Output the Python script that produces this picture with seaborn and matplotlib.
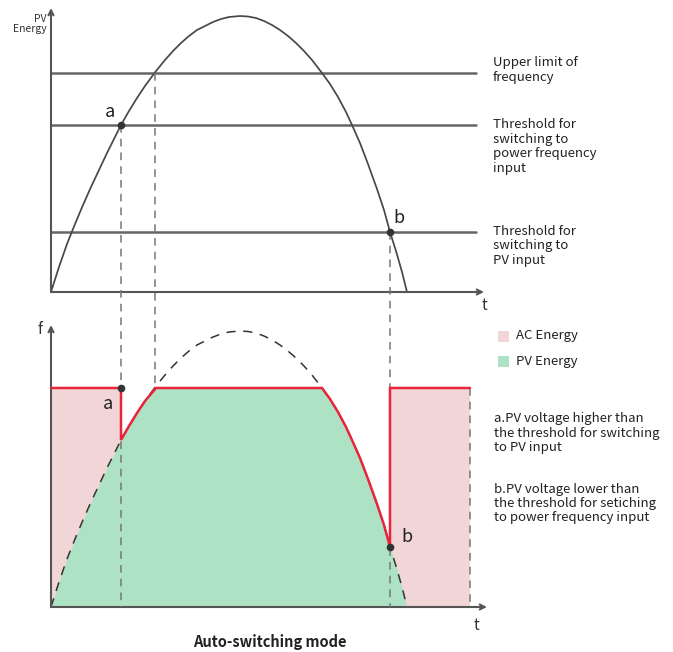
import numpy as np
import seaborn as sns
import matplotlib.pyplot as plt
from matplotlib.patches import Rectangle

# PV energy curve (t, height above the axis)
t = np.array([0, 8, 16, 24, 32, 40, 48, 56, 64, 70, 78, 86, 94, 105, 114, 122, 130, 138,
              146, 154, 162, 170, 178, 189, 197, 205, 213, 221, 229, 237, 245, 253, 261,
              271, 279, 287, 295, 301, 309, 317, 326, 333, 339, 345, 351, 356])
pv = np.array([0, 25, 48, 68, 87, 105, 122, 139, 155, 167, 181, 194, 206, 221, 232, 241,
               249, 256, 262, 266, 270, 273, 275, 276, 275.5, 274, 271, 267, 262, 256, 249,
               241, 232, 219, 208, 195, 180, 167, 149, 128, 103, 82, 60, 41, 20, 0])

upper_limit = 219      # upper limit of frequency
thr_power = 167        # threshold for switching to power frequency input
thr_pv = 60            # threshold for switching to PV input
t_a, t_b, t_end = 70, 339, 419

top0 = 315             # baseline of upper panel

right_labels = ["Upper limit of\nfrequency",
                "Threshold for\nswitching to\npower frequency\ninput",
                "Threshold for\nswitching to\nPV input"]
legend_labels = ["AC Energy", "PV Energy"]
notes = ["a.PV voltage higher than\nthe threshold for switching\nto PV input",
         "b.PV voltage lower than\nthe threshold for setiching\nto power frequency input"]

sns.set_theme(style="white")
plt.rcParams['font.family'] = ['Noto Sans CJK SC', 'DejaVu Sans']

pink = "#f2d5d6"
green = "#aee2c4"
red = "#e8253a"
grey = "#555555"

fig = plt.figure(figsize=(6.73, 6.52), dpi=100)
ax = fig.add_axes([0, 0, 1, 1])
ax.set_xlim(-51, 622)
ax.set_ylim(-45, 607)
ax.axis('off')

# ---- upper panel ----
for lvl in [upper_limit, thr_power, thr_pv]:
    ax.plot([0, 425], [top0 + lvl, top0 + lvl], color="#666666", lw=1.8, zorder=2)
sns.lineplot(x=t, y=pv + top0, ax=ax, color="#484848", lw=1.25, zorder=3)

arrow = dict(arrowstyle='->', lw=1.5, color=grey, mutation_scale=9, shrinkA=0, shrinkB=0)
ax.annotate('', xy=(0, top0 + 284), xytext=(0, top0), arrowprops=arrow)
ax.annotate('', xy=(433, top0), xytext=(0, top0), arrowprops=arrow)
ax.text(-4, top0 + 268, "PV\nEnergy", ha='right', va='center', fontsize=7.5, color="#333333",
        linespacing=1.1)
ax.text(434, top0 - 14, "t", ha='center', va='center', fontsize=11, color="#333333")

ax.plot([t_a], [top0 + thr_power], 'o', color="#333333", ms=4.5, zorder=5)
ax.plot([t_b], [top0 + thr_pv], 'o', color="#333333", ms=4.5, zorder=5)
ax.text(t_a - 11, top0 + 180, "a", fontsize=13, ha='center', va='center', color="#222222")
ax.text(t_b + 9, top0 + 74, "b", fontsize=13, ha='center', va='center', color="#222222")

ys = [537, 460.5, 361]
for lab, y in zip(right_labels, ys):
    ax.text(442, y, lab, ha='left', va='center', fontsize=9.5, color="#222222", linespacing=1.15)

# ---- lower panel ----
capped = np.minimum(pv, upper_limit)
ax.fill_between([0, t_a], 0, upper_limit, color=pink, lw=0, zorder=1)
ax.fill_between([t_b, t_end], 0, upper_limit, color=pink, lw=0, zorder=1)
ax.fill_between(t, 0, capped, color=green, lw=0, zorder=1.5)
ax.plot(t, pv, color="#333333", lw=1.1, dashes=(6, 5), zorder=2)

mask = (t >= t_a) & (t <= t_b)
red_x = np.concatenate([[0, t_a], t[mask], [t_b, t_end]])
red_y = np.concatenate([[upper_limit, upper_limit], capped[mask], [upper_limit, upper_limit]])
ax.plot(red_x, red_y, color=red, lw=1.8, zorder=4, solid_joinstyle='miter')

ax.annotate('', xy=(0, 282), xytext=(0, 0), arrowprops=arrow)
ax.annotate('', xy=(436, 0), xytext=(0, 0), arrowprops=arrow)
ax.text(-11, 277, "f", ha='center', va='center', fontsize=11, color="#333333")
ax.text(426, -18, "t", ha='center', va='center', fontsize=11, color="#333333")

ax.plot([t_a], [upper_limit], 'o', color="#333333", ms=4.5, zorder=5)
ax.plot([t_b], [thr_pv], 'o', color="#333333", ms=4.5, zorder=5)
ax.text(t_a - 13, 203, "a", fontsize=13, ha='center', va='center', color="#222222")
ax.text(t_b + 17, 70, "b", fontsize=13, ha='center', va='center', color="#222222")

# dashed guide lines
dash_kw = dict(color="#777777", lw=1.1, dashes=(5, 4), zorder=3)
ax.plot([t_a, t_a], [top0 + thr_power, 0], **dash_kw)
ax.plot([104, 104], [top0 + upper_limit, upper_limit], **dash_kw)
ax.plot([t_b, t_b], [top0 + thr_pv, 0], **dash_kw)
ax.plot([t_end, t_end], [upper_limit, 0], **dash_kw)

# legend and notes
ax.add_patch(Rectangle((447, 265), 11, 11, color=pink, lw=0))
ax.add_patch(Rectangle((447, 240), 11, 11, color=green, lw=0))
ax.text(465, 271, legend_labels[0], ha='left', va='center', fontsize=9.5, color="#222222")
ax.text(465, 245, legend_labels[1], ha='left', va='center', fontsize=9.5, color="#222222")
ax.text(443, 174, notes[0], ha='left', va='center', fontsize=9.5, color="#222222", linespacing=1.15)
ax.text(443, 103.5, notes[1], ha='left', va='center', fontsize=9.5, color="#222222", linespacing=1.15)

ax.text(219, -35, "Auto-switching mode", ha='center', va='center', fontsize=10.5,
        fontweight='bold', color="#222222")

fig.savefig("out.png", dpi=100)
